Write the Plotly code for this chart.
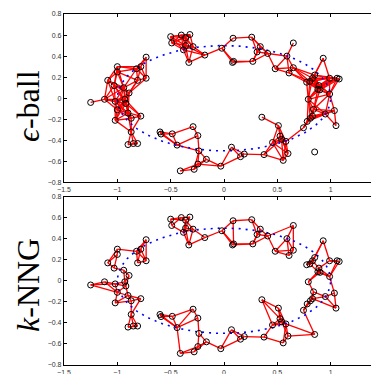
import numpy as np
import plotly.graph_objects as go
from plotly.subplots import make_subplots

# sample points
x_pts = [-1.25, -1.12, -1.02, -0.93, -0.92, -0.89, -0.94, -1.03, -1.09, -1.00, -1.00, -0.82, -0.78,
         -0.73, -0.81, -0.73, -1.00, -1.02, -0.90, -0.87, -0.78, -0.87, -0.90, -0.85, -0.81,
         -0.50, -0.49, -0.40, -0.36, -0.32, -0.36, -0.38, -0.29, -0.33, -0.18, -0.02,
         0.085, 0.26, 0.09, 0.08, 0.27, 0.34, 0.31, 0.41, 0.65, 0.59, 0.48, 0.61, 0.65,
         0.93, 0.85, 0.83, 0.775, 0.805, 0.99, 1.06, 1.08, 0.89, 0.90, 0.88, 0.99, 0.79,
         0.84, 0.83, 0.81, 0.78, 0.745, 0.95, 1.035, 1.05, 0.85,
         0.355, 0.51, 0.525, 0.54, 0.455, 0.58, 0.60, 0.555, 0.375, 0.19, 0.155, 0.07, -0.03,
         -0.60, -0.59, -0.485, -0.29, -0.245, -0.44, -0.235, -0.165, -0.245, -0.28, -0.41]
y_pts = [-0.04, -0.01, -0.03, -0.01, -0.05, 0.05, 0.10, 0.12, 0.17, 0.25, 0.30, 0.28, 0.30,
         0.39, 0.17, 0.19, -0.11, -0.21, -0.14, -0.19, -0.17, -0.32, -0.44, -0.43, -0.43,
         0.585, 0.525, 0.60, 0.575, 0.605, 0.50, 0.46, 0.49, 0.34, 0.41, 0.475,
         0.57, 0.58, 0.35, 0.34, 0.35, 0.49, 0.44, 0.425, 0.525, 0.40, 0.28, 0.24, 0.29,
         0.38, 0.22, 0.19, 0.152, 0.16, 0.19, 0.19, 0.183, 0.12, 0.08, 0.085, 0.04, -0.01,
         -0.105, -0.17, -0.19, -0.22, -0.28, -0.15, -0.117, -0.26, -0.51,
         -0.18, -0.26, -0.36, -0.39, -0.42, -0.41, -0.525, -0.59, -0.535, -0.53, -0.555, -0.465, -0.645,
         -0.32, -0.34, -0.338, -0.27, -0.355, -0.445, -0.50, -0.58, -0.625, -0.675, -0.69]

# underlying ellipse (centre and semi-axes)
ellipse_center = [0.0, 0.0]
ellipse_axes = [1.0, 0.5]

EPS = 0.22
K = 3

x_ticks = [-1.5, -1, -0.5, 0, 0.5, 1, 1.5]
x_ticklabels = ["\u22121.5", "\u22121", "\u22120.5", "0", "0.5", "1", "1.5"]
y_ticks = [-0.8, -0.6, -0.4, -0.2, 0, 0.2, 0.4, 0.6, 0.8]
y_ticklabels = ["\u22120.8", "\u22120.6", "\u22120.4", "\u22120.2", "0", "0.2", "0.4", "0.6", "0.8"]
panel_labels = ["<i>\u03f5</i>-ball", "<i>k</i>-NNG"]

P = np.column_stack([x_pts, y_pts])
n = len(P)
D = np.sqrt(((P[:, None, :] - P[None, :, :]) ** 2).sum(-1))

eps_edges = [(i, j) for i in range(n) for j in range(i + 1, n) if D[i, j] <= EPS]
knn = set()
for i in range(n):
    order = np.argsort(D[i])
    for j in order[1:K + 1]:
        knn.add((min(i, j), max(i, j)))
knn_edges = sorted(knn)


def edge_xy(edges):
    ex, ey = [], []
    for i, j in edges:
        ex += [P[i, 0], P[j, 0], None]
        ey += [P[i, 1], P[j, 1], None]
    return ex, ey


t = np.linspace(0, 2 * np.pi, 300)
ell_x = ellipse_center[0] + ellipse_axes[0] * np.cos(t)
ell_y = ellipse_center[1] + ellipse_axes[1] * np.sin(t)

fig = make_subplots(rows=2, cols=1, vertical_spacing=0.04)
for r, edges in [(1, eps_edges), (2, knn_edges)]:
    ex, ey = edge_xy(edges)
    fig.add_trace(go.Scatter(x=ex, y=ey, mode="lines", line=dict(color="#ff0000", width=1.3),
                             hoverinfo="skip", showlegend=False), row=r, col=1)
    fig.add_trace(go.Scatter(x=ell_x, y=ell_y, mode="lines",
                             line=dict(color="#0000ff", width=1.6, dash="2px,5px"),
                             hoverinfo="skip", showlegend=False), row=r, col=1)
    fig.add_trace(go.Scatter(x=x_pts, y=y_pts, mode="markers",
                             marker=dict(symbol="circle-open", size=6, color="black",
                                         line=dict(width=1, color="black")),
                             showlegend=False), row=r, col=1)

axis_font = dict(family="Liberation Sans, Arial, sans-serif", size=7, color="#333333")
for r in [1, 2]:
    fig.update_xaxes(range=[-1.5, 1.5], tickvals=x_ticks, ticktext=x_ticklabels,
                     showgrid=False, zeroline=False, showline=True, linecolor="black",
                     linewidth=1.2, mirror="ticks", ticks="inside", ticklen=3,
                     tickcolor="black", tickfont=axis_font, row=r, col=1)
    fig.update_yaxes(range=[-0.8, 0.8], tickvals=y_ticks, ticktext=y_ticklabels,
                     showgrid=False, zeroline=False, showline=True, linecolor="black",
                     linewidth=1.2, mirror="ticks", ticks="inside", ticklen=3, tickcolor="black",
                     tickfont=axis_font, row=r, col=1)

fig.update_layout(
    width=379, height=374,
    margin=dict(l=56, r=3, t=6, b=17),
    plot_bgcolor="white", paper_bgcolor="white",
)
fig.layout.yaxis.domain = [0.52, 1.0]
fig.layout.yaxis2.domain = [0.0, 0.48]

for label, yc in zip(panel_labels, [0.738, 0.228]):
    fig.add_annotation(text=label, xref="paper", yref="paper", x=-0.1125, y=yc,
                       xanchor="center", yanchor="middle", textangle=-90, showarrow=False,
                       font=dict(family="Liberation Serif, DejaVu Serif, serif", size=32,
                                 color="black"))

fig.write_html("out.html")
